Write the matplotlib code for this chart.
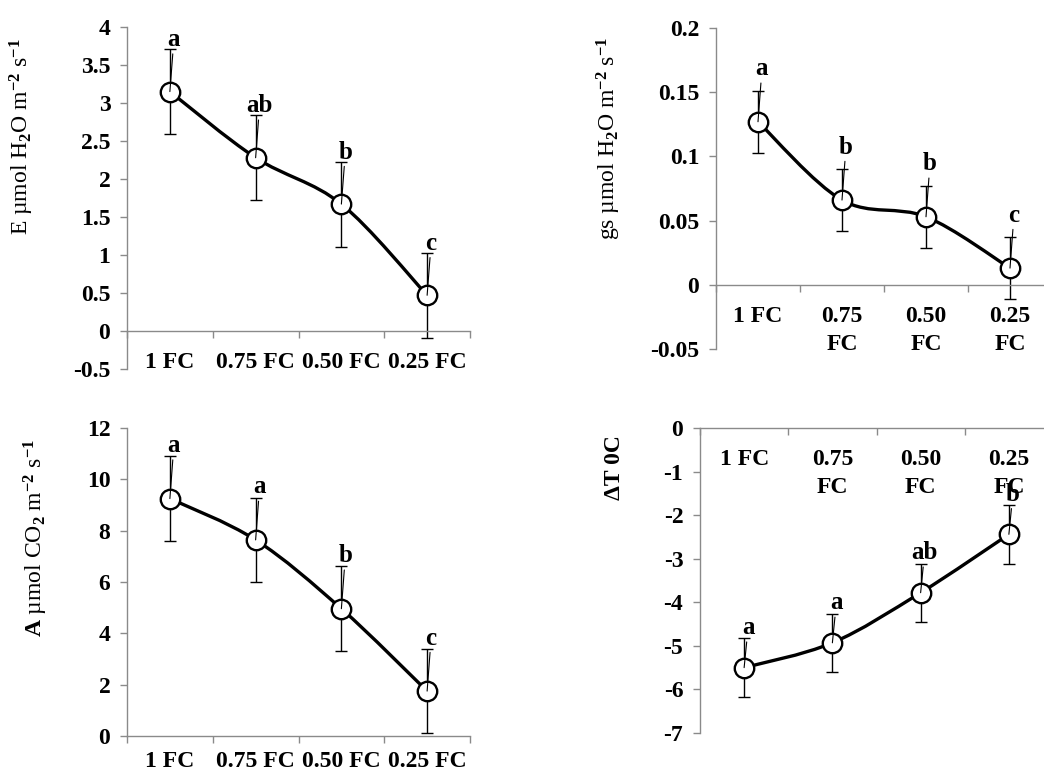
import numpy as np
import matplotlib
matplotlib.use('Agg')
import matplotlib.pyplot as plt
from matplotlib.path import Path
from matplotlib.patches import PathPatch

plt.rcParams['font.family'] = 'Liberation Serif'
plt.rcParams['font.weight'] = 'bold'
plt.rcParams['xtick.labelsize'] = 17
plt.rcParams['ytick.labelsize'] = 17
plt.rcParams['mathtext.fontset'] = 'custom'
plt.rcParams['mathtext.rm'] = 'Liberation Serif'
plt.rcParams['mathtext.it'] = 'Liberation Serif:italic'
plt.rcParams['mathtext.bf'] = 'Liberation Serif:bold'

# du lieu
nhan_1dong = ['1 FC', '0.75 FC', '0.50 FC', '0.25 FC']
nhan_2dong = ['1 FC', '0.75\nFC', '0.50\nFC', '0.25\nFC']

E_val = [3.15, 2.28, 1.67, 0.47]
E_err = [0.56, 0.56, 0.56, 0.56]
E_let = ['a', 'ab', 'b', 'c']
E_ticks = [-0.5, 0, 0.5, 1, 1.5, 2, 2.5, 3, 3.5, 4]
E_ticklab = ['-0.5', '0', '0.5', '1', '1.5', '2', '2.5', '3', '3.5', '4']

gs_val = [0.127, 0.066, 0.053, 0.013]
gs_err = [0.024, 0.024, 0.024, 0.024]
gs_let = ['a', 'b', 'b', 'c']
gs_ticks = [-0.05, 0, 0.05, 0.1, 0.15, 0.2]
gs_ticklab = ['-0.05', '0', '0.05', '0.1', '0.15', '0.2']

A_val = [9.25, 7.64, 4.96, 1.75]
A_err = [1.64, 1.64, 1.65, 1.64]
A_let = ['a', 'a', 'b', 'c']
A_ticks = [0, 2, 4, 6, 8, 10, 12]
A_ticklab = ['0', '2', '4', '6', '8', '10', '12']

dT_val = [-5.50, -4.93, -3.78, -2.44]
dT_err = [0.67, 0.67, 0.67, 0.68]
dT_let = ['a', 'a', 'ab', 'b']
dT_ticks = [-7, -6, -5, -4, -3, -2, -1, 0]
dT_ticklab = ['-7', '-6', '-5', '-4', '-3', '-2', '-1', '0']

W, H = 1044, 772
fig = plt.figure(figsize=(W / 100, H / 100), dpi=100)
XAM = '#8a8a8a'


def duong_muot(x, y):
    # duong cong bezier kieu Excel (smoothed line)
    pts = np.column_stack([x, y]).astype(float)
    p = np.vstack([pts[0], pts, pts[-1]])
    verts = [pts[0]]
    codes = [Path.MOVETO]
    for i in range(len(pts) - 1):
        p0, p1, p2, p3 = p[i], p[i + 1], p[i + 2], p[i + 3]
        verts += [p1 + (p2 - p0) / 6, p2 - (p3 - p1) / 6, p2]
        codes += [Path.CURVE4] * 3
    return Path(verts, codes)


def ve_panel(px, vals, errs, letters, cats, ylim, yticks, ytlab, off, xpad=15):
    l, r, t, b = px
    ax = fig.add_axes([l / W, 1 - b / H, (r - l) / W, (b - t) / H])
    # dat truc x tai y = 0 truoc (set_position lam moi lai cac tick)
    for s in ['top', 'right']:
        ax.spines[s].set_visible(False)
    ax.spines['bottom'].set_position(('data', 0))
    for s in ['left', 'bottom']:
        ax.spines[s].set_color(XAM)
        ax.spines[s].set_linewidth(1)
    x = np.arange(1, len(vals) + 1)
    ax.add_patch(PathPatch(duong_muot(x, vals), fill=False, lw=2.4,
                           edgecolor='black', zorder=3))
    ax.errorbar(x, vals, yerr=errs, fmt='none', ecolor='black',
                elinewidth=1, capsize=4.5, capthick=1, zorder=2)
    ax.plot(x, vals, 'o', ms=14, mfc='white', mec='black', mew=1.7,
            zorder=4, clip_on=False)
    for xi, yi, s in zip(x, vals, letters):
        ax.annotate(s, (xi, yi), xytext=(4, off), textcoords='offset pixels',
                    ha='center', va='center', fontsize=18, fontweight='bold',
                    arrowprops=dict(arrowstyle='-', lw=0.8, color='black',
                                    shrinkA=0, shrinkB=0),
                    zorder=5)
    ax.set_xlim(0.5, len(vals) + 0.5)
    ax.set_ylim(*ylim)
    ax.tick_params(axis='x', which='major', length=5, width=1, color=XAM,
                   direction='out')
    ax.tick_params(axis='x', which='minor', length=0, pad=xpad)
    ax.tick_params(axis='y', length=5, width=1, color=XAM, pad=7)
    ax.set_yticks(yticks)
    ax.set_yticklabels(ytlab)
    ax.set_xticks(np.arange(0.5, len(vals) + 1, 1))
    ax.set_xticklabels([])
    ax.set_xticks(x, minor=True)
    ax.set_xticklabels(cats, minor=True, linespacing=1.45)
    ax.patch.set_alpha(0)
    return ax


ve_panel((127, 470, 27, 369), E_val, E_err, E_let, nhan_1dong,
         (-0.5, 4), E_ticks, E_ticklab, 52)
ve_panel((716, 1052, 28, 349), gs_val, gs_err, gs_let, nhan_2dong,
         (-0.05, 0.2), gs_ticks, gs_ticklab, 53)
ve_panel((127, 470, 428, 736), A_val, A_err, A_let, nhan_1dong,
         (0, 12), A_ticks, A_ticklab, 53, xpad=11)
ve_panel((700, 1053, 428, 733), dT_val, dT_err, dT_let, nhan_2dong,
         (-7, 0), dT_ticks, dT_ticklab, 40)

# nhan truc y
fig.text(22 / W, 1 - 137 / H, r'E µmol H$_2$O m$^{\mathrm{-2}}$ s$^{\mathrm{-1}}$',
         rotation=90, ha='center', va='center', fontsize=17,
         fontweight='normal')
fig.text(609 / W, 1 - 138 / H, r'gs µmol H$_2$O m$^{\mathrm{-2}}$ s$^{\mathrm{-1}}$',
         rotation=90, ha='center', va='center', fontsize=17,
         fontweight='normal')
fig.text(36 / W, 1 - 538 / H,
         r'$\mathbf{A}$ µmol CO$_2$ m$^{\mathrm{-2}}$ s$^{\mathrm{-1}}$',
         rotation=90, ha='center', va='center', fontsize=17,
         fontweight='normal')
fig.text(615 / W, 1 - 468 / H, 'ΔT 0C', rotation=90, ha='center',
         va='center', fontsize=17, fontweight='bold')

fig.savefig('out.png', dpi=100)
